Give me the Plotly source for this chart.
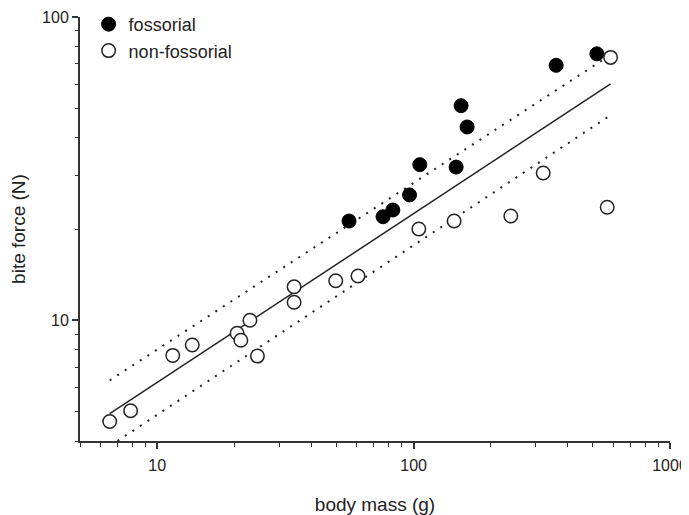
import plotly.graph_objects as go

# body mass (g) and bite force (N)
fossorial_mass = [56.0, 76.0, 83.0, 96.4, 105.7, 146.5, 153.2, 161.7, 359.7, 518.6]
fossorial_force = [21.25, 21.95, 23.1, 25.9, 32.6, 32.0, 51.0, 43.4, 69.3, 75.6]

nonfoss_mass = [6.53, 7.88, 11.5, 13.7, 20.5, 21.2, 23.0, 24.6, 34.2, 34.2,
                49.7, 60.7, 104.8, 143.9, 239.4, 320.2, 568.9, 586.6]
nonfoss_force = [4.64, 5.03, 7.66, 8.29, 9.06, 8.59, 10.0, 7.62, 12.9, 11.47,
                 13.5, 14.0, 20.0, 21.25, 22.07, 30.6, 23.6, 73.6]

fit_mass = [6.53, 586.6]
fit_force = [4.92, 60.2]
upper_mass = [6.53, 586.6]
upper_force = [6.34, 75.0]
lower_mass = [7.0, 583.0]
lower_force = [4.0, 47.3]

x_major = [10, 100, 1000]
x_minor = [5, 6, 7, 8, 9, 20, 30, 40, 50, 60, 70, 80, 90,
           200, 300, 400, 500, 600, 700, 800, 900]
y_major = [10, 100]
y_minor = [4, 5, 6, 7, 8, 9, 20, 30, 40, 50, 60, 70, 80, 90]

FONT = "Liberation Sans, Arial, sans-serif"
INK = "#222222"

fig = go.Figure()
fig.add_trace(go.Scatter(x=upper_mass, y=upper_force, mode="lines",
                         line=dict(color=INK, width=2, dash="2px,7px"),
                         showlegend=False, hoverinfo="skip"))
fig.add_trace(go.Scatter(x=lower_mass, y=lower_force, mode="lines",
                         line=dict(color=INK, width=2, dash="2px,7px"),
                         showlegend=False, hoverinfo="skip"))
fig.add_trace(go.Scatter(x=fit_mass, y=fit_force, mode="lines",
                         line=dict(color=INK, width=1.5),
                         showlegend=False, hoverinfo="skip"))
fig.add_trace(go.Scatter(x=fossorial_mass, y=fossorial_force, mode="markers",
                         name="fossorial", legendrank=1,
                         marker=dict(size=14, color="#000000",
                                     line=dict(color="#000000", width=1))))
fig.add_trace(go.Scatter(x=nonfoss_mass, y=nonfoss_force, mode="markers",
                         name="non-fossorial", legendrank=2,
                         marker=dict(size=13.5, color="#ffffff",
                                     line=dict(color=INK, width=1.5))))

axis_common = dict(
    type="log", showgrid=False, zeroline=False, showline=True, automargin=False,
    linecolor="#333333", linewidth=2, ticks="outside", ticklen=6,
    tickwidth=1.5, tickcolor="#333333", mirror=False,
    tickfont=dict(family=FONT, size=16, color=INK),
)

# the page body adds an 8px margin, so the figure is sized to fit the window
fig.update_layout(
    width=681, height=507,
    margin=dict(l=72, r=19, t=9, b=74, autoexpand=False),
    paper_bgcolor="white", plot_bgcolor="white",
    font=dict(family=FONT, color=INK),
    xaxis=dict(
        **axis_common,
        range=[0.69897, 3],
        tickmode="array", tickvals=x_major, ticktext=[str(v) for v in x_major],
        ticklabelstandoff=3,
        minor=dict(tickmode="array", tickvals=x_minor, ticks="outside",
                   ticklen=3.5, tickwidth=1.3, tickcolor="#333333"),
        title=dict(text="body mass (g)", font=dict(family=FONT, size=19, color=INK),
                   standoff=24),
    ),
    yaxis=dict(
        **axis_common,
        range=[0.60206, 2],
        tickmode="array", tickvals=y_major, ticktext=[str(v) for v in y_major],
        minor=dict(tickmode="array", tickvals=y_minor, ticks="outside",
                   ticklen=3.5, tickwidth=1.3, tickcolor="#333333"),
        title=dict(text="bite force (N)", font=dict(family=FONT, size=19, color=INK),
                   standoff=19),
    ),
    legend=dict(
        x=0.0146, y=1.026, xanchor="left", yanchor="top",
        bgcolor="rgba(0,0,0,0)", borderwidth=0,
        font=dict(family=FONT, size=18, color=INK),
        traceorder="normal",
    ),
)

fig.write_html("out.html")
